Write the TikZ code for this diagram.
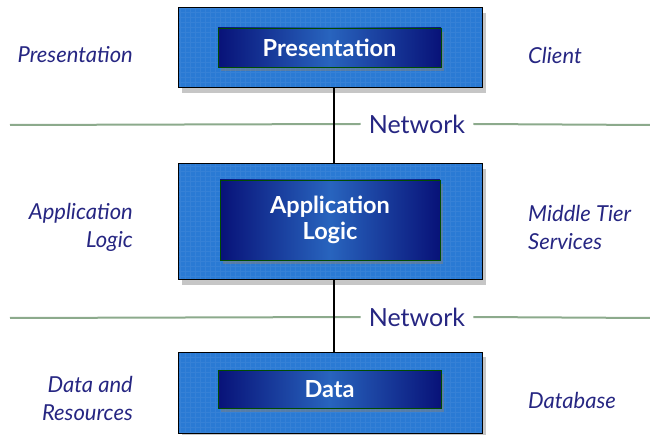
\documentclass[tikz,border=0pt]{standalone}
\usepackage{fontspec}
\setmainfont{Lato}
\usetikzlibrary{shadows}
\definecolor{tierblue}{RGB}{42,122,212}
\definecolor{navy}{RGB}{8,18,120}
\definecolor{midnavy}{RGB}{40,100,190}
\definecolor{labelblue}{RGB}{38,38,130}
\definecolor{netgreen}{RGB}{140,170,140}
\begin{document}
\begin{tikzpicture}[x=1pt,y=-1pt]
\tikzstyle{tier}=[draw=black,line width=1pt,fill=tierblue,minimum width=304pt,
  drop shadow={shadow xshift=4pt,shadow yshift=-5pt,opacity=0.45},
  path picture={\draw[white,opacity=0.06,step=5pt] (path picture bounding box.south west) grid (path picture bounding box.north east);}]
\tikzstyle{core}=[draw=black!70!green,line width=0.8pt,left color=navy,right color=navy,middle color=midnavy,
  drop shadow={shadow xshift=3pt,shadow yshift=-4pt,opacity=0.5},
  text=white,font=\fontsize{23.5}{26}\selectfont\bfseries,align=center,inner sep=0pt]
\tikzstyle{side}=[text=labelblue,font=\fontsize{22}{28}\selectfont\itshape,inner sep=0pt]
\tikzstyle{net}=[text=labelblue,font=\fontsize{25}{25}\selectfont,inner sep=0pt,fill=white]
\useasboundingbox (0,0) rectangle (650,435);
% tiers
\node[tier,minimum height=80pt](pouter) at (330,48) {};
\node[core,minimum width=223pt,minimum height=39pt](pinner) at (329.5,47.5) {Presentation};
\node[tier,minimum height=116pt](aouter) at (330,222) {};
\node[core,minimum width=220pt,minimum height=80pt](ainner) at (330,220) {Application\\Logic};
\node[tier,minimum height=81pt](douter) at (330,392.5) {};
\node[core,minimum width=223pt,minimum height=38pt](dinner) at (329.5,389) {Data};
% networks
\coordinate (n1l) at (10,125);
\coordinate (n1r) at (650,125);
\node[net](net1) at (417,124) {Network};
\coordinate (n2l) at (10,318);
\coordinate (n2r) at (650,318);
\node[net](net2) at (417,317) {Network};
\draw[netgreen,line width=2pt] (n1l) -- ([xshift=-8pt]net1.west);
\draw[netgreen,line width=2pt] ([xshift=8pt]net1.east) -- (n1r);
\draw[netgreen,line width=2pt] (n2l) -- ([xshift=-8pt]net2.west);
\draw[netgreen,line width=2pt] ([xshift=8pt]net2.east) -- (n2r);
\draw[line width=1.5pt] ([xshift=4pt]pouter.south) -- ([xshift=4pt]aouter.north);
\draw[line width=1.5pt] ([xshift=4pt]aouter.south) -- ([xshift=4pt]douter.north);
% labels
\node[side,anchor=east,align=right](lp) at (133,55) {Presentation};
\node[side,anchor=east,align=right](la) at (133,227) {Application\\Logic};
\node[side,anchor=east,align=right](ld) at (133,398) {Data and\\Resources};
\node[side,anchor=west,align=left](rc) at (528,55) {Client};
\node[side,anchor=west,align=left](rm) at (528,227) {Middle Tier\\Services};
\node[side,anchor=west,align=left](rd) at (528,400) {Database};
\end{tikzpicture}
\end{document}
